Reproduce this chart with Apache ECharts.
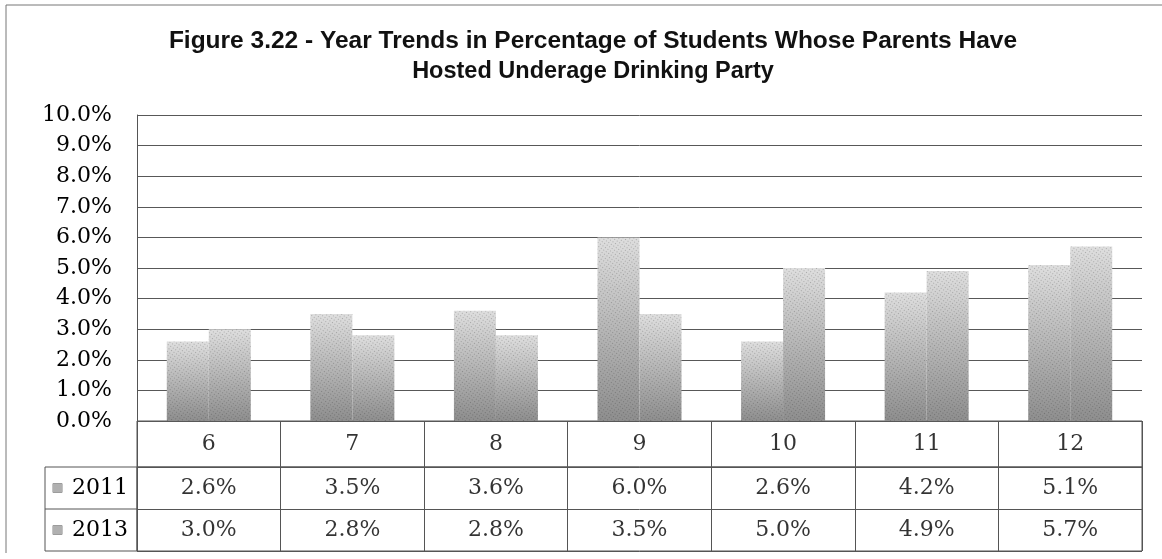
<!DOCTYPE html>
<html>
<head>
<meta charset="utf-8">
<title>Figure 3.22</title>
<script src="https://cdn.jsdelivr.net/npm/echarts@6/dist/echarts.min.js"></script>
<style>
  html, body { margin: 0; padding: 0; background: #fff; }
  #charts { width: 1162px; height: 559px; }
</style>
</head>
<body>
<div id="charts"></div>
<script>
// grades and yearly values (percent)
var categories = ['6', '7', '8', '9', '10', '11', '12'];
var years = ['2011', '2013'];
var vals2011 = [2.6, 3.5, 3.6, 6.0, 2.6, 4.2, 5.1];
var vals2013 = [3.0, 2.8, 2.8, 3.5, 5.0, 4.9, 5.7];
var yTicks = [0, 1, 2, 3, 4, 5, 6, 7, 8, 9, 10];

var serif = 'DejaVu Serif';
var lineCol = '#555';

var chart = echarts.init(document.getElementById('charts'));

var barFill = new echarts.graphic.LinearGradient(0, 0, 0, 1, [
    { offset: 0, color: '#dedede' },
    { offset: 1, color: '#8e8e8e' }
]);
// stipple look of the scanned bars
var stipple = {
    symbol: 'rect',
    symbolSize: 1,
    dashArrayX: [1, 2],
    dashArrayY: [1, 2],
    rotation: 0.6,
    color: 'rgba(0,0,0,0.22)'
};

function cellData(vals, year) {
    return vals.map(function (v, i) { return [categories[i], year, v]; });
}

var cellLabel = {
    show: true,
    position: 'inside',
    fontFamily: serif,
    fontSize: 22,
    color: '#000'
};

var titleStyle = {
    fontFamily: 'Liberation Sans',
    fontWeight: 'bold',
    lineHeight: 30,
    color: '#111'
};

var option = {
    backgroundColor: '#fff',
    animation: false,
    title: [
        { text: 'Figure 3.22 - Year Trends in Percentage of Students Whose Parents Have',
          left: 588, top: 21, textAlign: 'center',
          textStyle: Object.assign({ fontSize: 24.5 }, titleStyle) },
        { text: 'Hosted Underage Drinking Party',
          left: 588, top: 52, textAlign: 'center',
          textStyle: Object.assign({ fontSize: 23.5 }, titleStyle) }
    ],
    grid: [
        { left: 137, right: 20, top: 115, height: 306 },
        { left: 137, right: 20, top: 421, height: 46, show: true, borderColor: lineCol, borderWidth: 1 },
        { left: 137, right: 20, top: 467, height: 84, show: true, borderColor: lineCol, borderWidth: 1 }
    ],
    xAxis: [
        { type: 'category', gridIndex: 0, data: categories,
          axisLine: { show: false }, axisTick: { show: false }, axisLabel: { show: false } },
        { type: 'category', gridIndex: 1, data: categories,
          axisLine: { show: false }, axisTick: { show: false }, axisLabel: { show: false },
          splitLine: { show: true, interval: 0, lineStyle: { color: lineCol } } },
        { type: 'category', gridIndex: 2, data: categories,
          axisLine: { show: false }, axisTick: { show: false }, axisLabel: { show: false },
          splitLine: { show: true, interval: 0, lineStyle: { color: lineCol } } }
    ],
    yAxis: [
        { type: 'value', gridIndex: 0, min: yTicks[0], max: yTicks[yTicks.length - 1], interval: 1,
          axisLine: { show: true, lineStyle: { color: lineCol } },
          axisTick: { show: false },
          axisLabel: { margin: 25, fontFamily: serif, fontSize: 22, color: '#000',
                       formatter: function (v) { return v.toFixed(1) + '%'; } },
          splitLine: { lineStyle: { color: '#585858' } } },
        { type: 'value', gridIndex: 1, min: 0, max: 1, show: false },
        { type: 'category', gridIndex: 2, data: years, inverse: true,
          axisLine: { show: false }, axisTick: { show: false },
          splitLine: { show: true, interval: 0, lineStyle: { color: lineCol } },
          axisLabel: {
              margin: 9,
              formatter: function (v) { return '{sw|}   {t|' + v + '}'; },
              rich: {
                  sw: { width: 9, height: 9, backgroundColor: '#b0b0b0', borderColor: '#888', borderWidth: 0.5 },
                  t: { fontFamily: serif, fontSize: 22, color: '#000' }
              }
          } }
    ],
    series: [
        { name: '2011', type: 'bar', xAxisIndex: 0, yAxisIndex: 0, data: vals2011,
          barWidth: 42, barGap: '0%', itemStyle: { color: barFill, decal: stipple } },
        { name: '2013', type: 'bar', xAxisIndex: 0, yAxisIndex: 0, data: vals2013,
          barWidth: 42, barGap: '0%', itemStyle: { color: barFill, decal: stipple } },
        // table: category row
        { type: 'scatter', xAxisIndex: 1, yAxisIndex: 1, symbolSize: 1,
          itemStyle: { color: 'rgba(0,0,0,0)' },
          data: categories.map(function (c) { return [c, 0.5]; }),
          label: Object.assign({}, cellLabel, { formatter: function (p) { return p.value[0]; } }) },
        // table: value rows
        { type: 'scatter', xAxisIndex: 2, yAxisIndex: 2, symbolSize: 1,
          itemStyle: { color: 'rgba(0,0,0,0)' },
          data: cellData(vals2011, years[0]).concat(cellData(vals2013, years[1])),
          label: Object.assign({}, cellLabel, { formatter: function (p) { return p.value[2].toFixed(1) + '%'; } }) }
    ],
    graphic: [
        { type: 'rect', shape: { x: 45, y: 467, width: 92, height: 84 }, style: { fill: 'none', stroke: lineCol, lineWidth: 1 } },
        { type: 'line', shape: { x1: 45, y1: 509, x2: 137, y2: 509 }, style: { stroke: lineCol, lineWidth: 1 } },
        { type: 'line', shape: { x1: 6, y1: 5, x2: 1162, y2: 5 }, style: { stroke: '#777', lineWidth: 1 } },
        { type: 'line', shape: { x1: 6, y1: 5, x2: 6, y2: 553 }, style: { stroke: '#777', lineWidth: 1 } }
    ]
};
chart.setOption(option);
</script>
</body>
</html>
